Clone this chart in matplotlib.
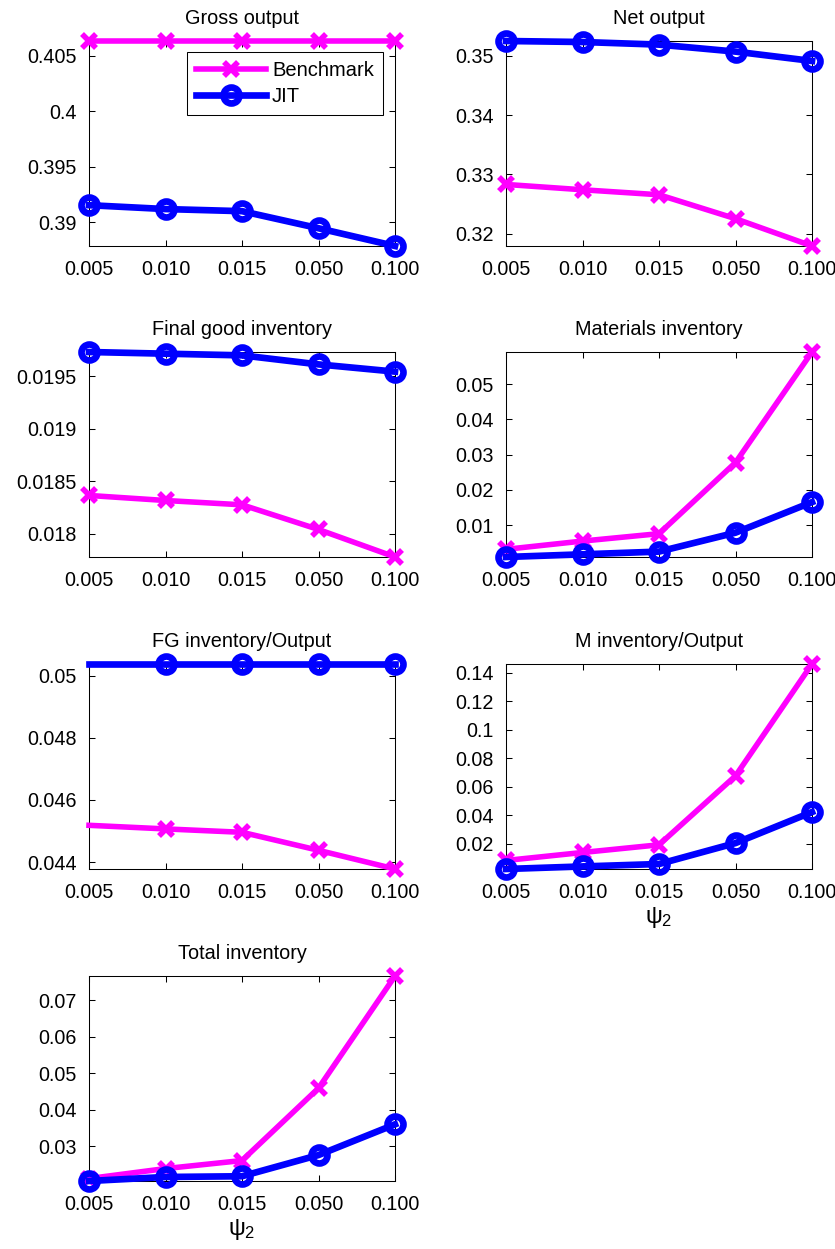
import matplotlib
matplotlib.use('Agg')
import matplotlib.pyplot as plt

plt.rcParams['font.family'] = ['Liberation Sans', 'DejaVu Sans']
plt.rcParams['mathtext.fontset'] = 'custom'
plt.rcParams['mathtext.rm'] = 'Liberation Sans'
plt.rcParams['mathtext.it'] = 'Liberation Sans'

# x categories (psi_2)
x_labels = ['0.005', '0.010', '0.015', '0.050', '0.100']

titles = ['Gross output', 'Net output', 'Final good inventory', 'Materials inventory',
          'FG inventory/Output', 'M inventory/Output', 'Total inventory']

gross_bench = [0.40634, 0.40634, 0.40634, 0.40634, 0.40634]
gross_jit = [0.39154, 0.39119, 0.39100, 0.38946, 0.38786]

net_bench = [0.32832, 0.32742, 0.32658, 0.32254, 0.31793]
net_jit = [0.35253, 0.35236, 0.35192, 0.35074, 0.34916]

fg_bench = [0.018363, 0.018315, 0.018274, 0.018039, 0.017777]
fg_jit = [0.019729, 0.019713, 0.019697, 0.019611, 0.019542]

mat_bench = [0.00313, 0.00547, 0.00757, 0.02774, 0.0591]
mat_jit = [0.00095, 0.00171, 0.00248, 0.00785, 0.01651]

fgo_bench = [0.045182, 0.045066, 0.044957, 0.044377, 0.043775]
fgo_jit = [0.050377, 0.050377, 0.050377, 0.050377, 0.050377]

mo_bench = [0.0083, 0.0139, 0.0193, 0.0677, 0.1463]
mo_jit = [0.0023, 0.0041, 0.0058, 0.0205, 0.0423]

tot_bench = [0.02117, 0.0239, 0.0261, 0.0459, 0.0766]
tot_jit = [0.0205, 0.0216, 0.0218, 0.0276, 0.0360]

bench = [gross_bench, net_bench, fg_bench, mat_bench, fgo_bench, mo_bench, tot_bench]
jit = [gross_jit, net_jit, fg_jit, mat_jit, fgo_jit, mo_jit, tot_jit]

yticks = [[0.39, 0.395, 0.4, 0.405],
          [0.32, 0.33, 0.34, 0.35],
          [0.018, 0.0185, 0.019, 0.0195],
          [0.01, 0.02, 0.03, 0.04, 0.05],
          [0.044, 0.046, 0.048, 0.05],
          [0.02, 0.04, 0.06, 0.08, 0.1, 0.12, 0.14],
          [0.03, 0.04, 0.05, 0.06, 0.07]]

fig = plt.figure(figsize=(8.35, 12.49), dpi=100)

W, H = 835, 1249
col_left = [89, 506]
row_top = [41, 352, 664, 976]
ax_w, ax_h = 306, 205

xpos = list(range(1, len(x_labels) + 1))

for i in range(7):
    r, c = divmod(i, 2)
    ax = fig.add_axes([col_left[c] / W, 1 - (row_top[r] + ax_h) / H, ax_w / W, ax_h / H])
    mk = [1, 2, 3, 4] if i == 4 else None
    ax.plot(xpos, bench[i], '-x', color='#ff00ff', lw=4, ms=10.5, mew=4,
            clip_on=False, markevery=mk, label='Benchmark', zorder=3)
    ax.plot(xpos, jit[i], '-o', color='#0000ff', lw=4.8, ms=11.5, mew=4.8,
            mfc='none', clip_on=False, markevery=mk, label='JIT', zorder=3)
    lo = min(min(bench[i]), min(jit[i]))
    hi = max(max(bench[i]), max(jit[i]))
    ax.set_ylim(lo, hi)
    ax.set_xlim(1, 5)
    ax.set_xticks(xpos)
    ax.set_xticklabels(x_labels)
    ax.set_yticks(yticks[i])
    ax.set_yticklabels(['%g' % v for v in yticks[i]])
    ax.tick_params(direction='in', length=4, width=0.75, top=True, right=True,
                   labelsize=14.2, pad=10)
    ax.tick_params(axis='y', pad=9)
    for s in ax.spines.values():
        s.set_linewidth(0.75)
    ax.set_title(titles[i], fontsize=14.3, pad=12)
    if i in (5, 6):
        ax.set_xlabel(r'$\psi_2$', fontsize=17, labelpad=2)
    if i == 0:
        leg = ax.legend(loc='upper right', bbox_to_anchor=(0.961, 0.947), fontsize=14.5,
                        fancybox=False, edgecolor='black', framealpha=1, handlelength=3.5,
                        handletextpad=0.3, labelspacing=0.35, borderaxespad=0, numpoints=1,
                        borderpad=0.45)
        leg.get_frame().set_linewidth(0.75)
        leg.set_zorder(5)

fig.savefig('out.png', dpi=100)
